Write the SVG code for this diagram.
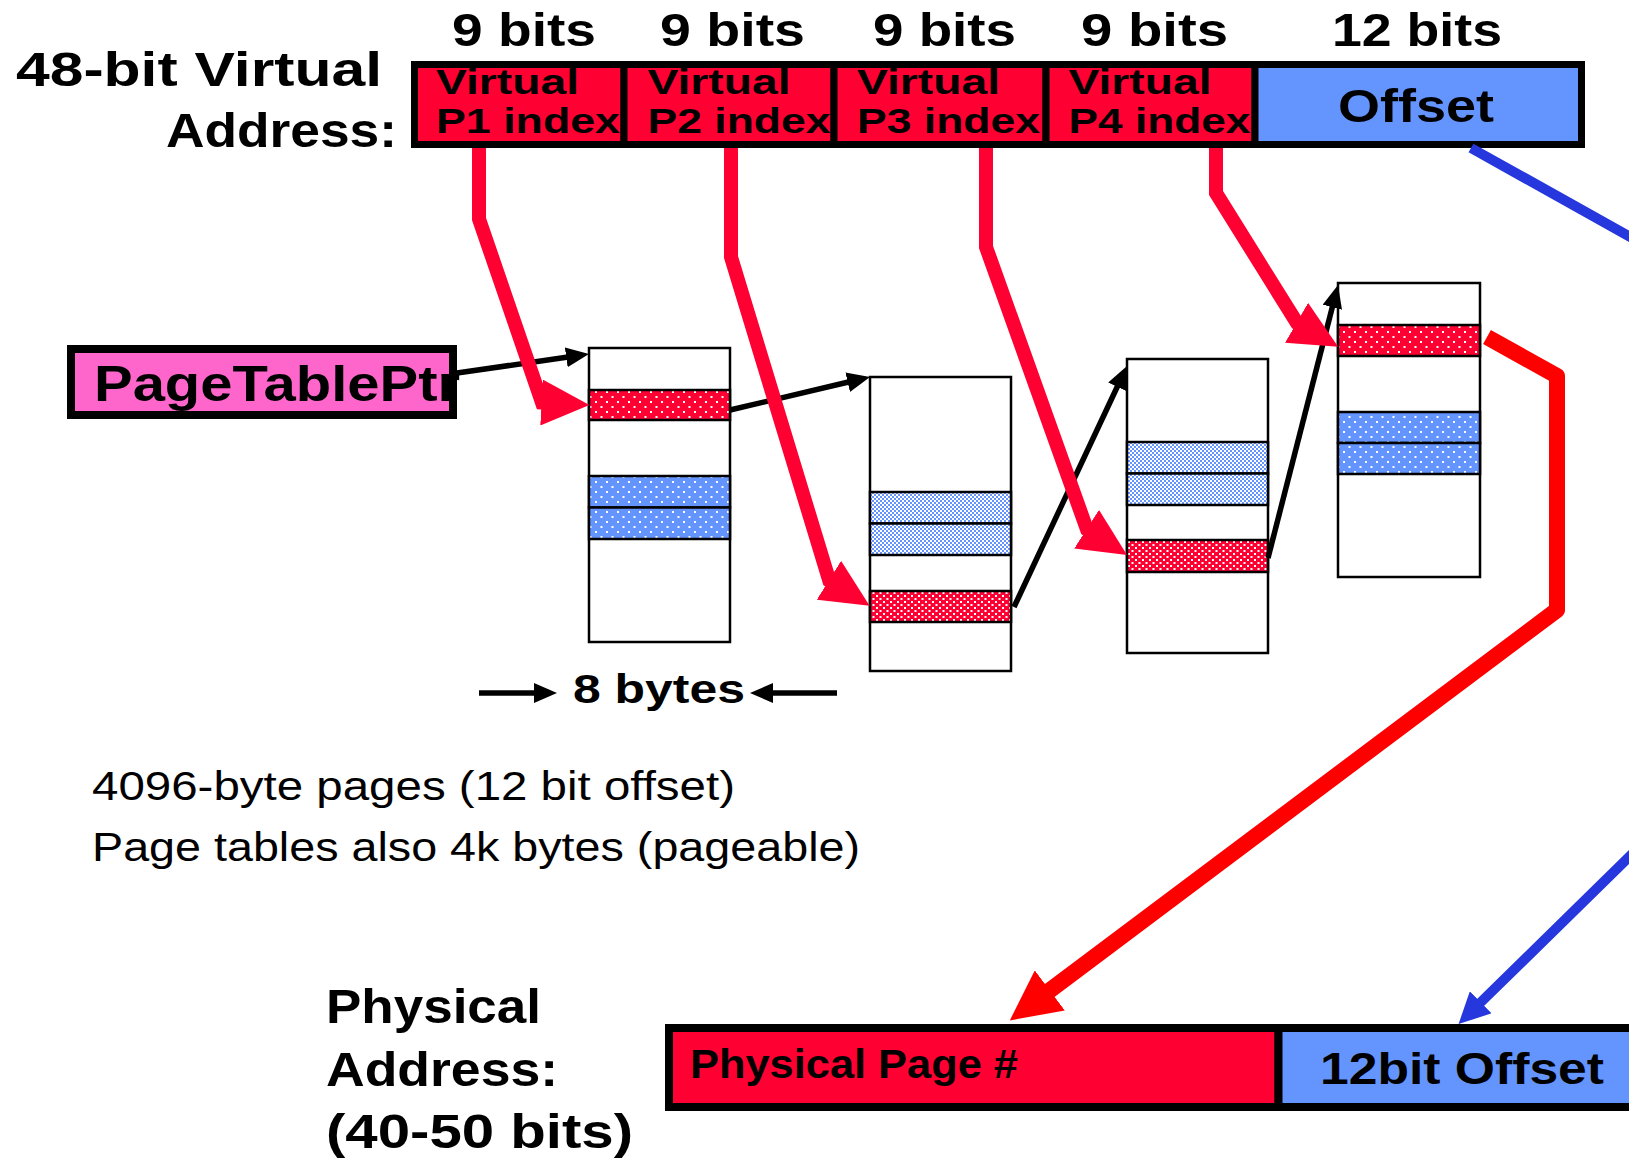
<svg xmlns="http://www.w3.org/2000/svg" width="1629" height="1160" viewBox="0 0 1629 1160">
<style>
.b{font-family:"Liberation Sans",Arial,sans-serif;font-weight:bold;fill:#000}
.r{font-family:"Liberation Sans",Arial,sans-serif;font-weight:normal;fill:#000}
.fr{fill:#FF0033;stroke:#000;stroke-width:7}
.fb{fill:#6495FF;stroke:#000;stroke-width:7}
.tbl{fill:#fff;stroke:#000;stroke-width:2.5}
.row{stroke:#000;stroke-width:2.5}
.blk{fill:none;stroke:#000;stroke-width:5.5}
.red{fill:none;stroke:#FF0033;stroke-width:14;stroke-linejoin:miter}
</style>
<defs>
<pattern id="redDots" patternUnits="userSpaceOnUse" width="11" height="10">
<rect width="11" height="10" fill="#FF0033"/><rect x="1" y="1" width="2" height="2" fill="#fff"/><rect x="6.5" y="6" width="2" height="2" fill="#fff"/>
</pattern>
<pattern id="redDense" patternUnits="userSpaceOnUse" width="7" height="6">
<rect width="7" height="6" fill="#FF0033"/><rect x="1" y="1" width="2" height="2" fill="#fff"/><rect x="4.5" y="4" width="2" height="2" fill="#fff"/>
</pattern>
<pattern id="blueDots" patternUnits="userSpaceOnUse" width="11" height="10">
<rect width="11" height="10" fill="#6495FF"/><rect x="1" y="1" width="2" height="2" fill="#fff"/><rect x="6.5" y="6" width="2" height="2" fill="#fff"/>
</pattern>
<pattern id="blueCheck" patternUnits="userSpaceOnUse" width="4" height="4">
<rect width="4" height="4" fill="#fff"/><rect width="2" height="2" fill="#6495FF"/><rect x="2" y="2" width="2" height="2" fill="#6495FF"/>
</pattern>
<marker id="ahBlack" markerUnits="userSpaceOnUse" viewBox="0 0 23 20" markerWidth="23" markerHeight="20" refX="2" refY="10" orient="auto"><path d="M0,0 L23,10 L0,20 Z" fill="#000"/></marker>
<marker id="ahRed" markerUnits="userSpaceOnUse" viewBox="0 0 48 46" markerWidth="48" markerHeight="46" refX="1" refY="23" orient="auto"><path d="M0,0 L48,23 L0,46 Z" fill="#FF0033"/></marker>
<marker id="ahRed2" markerUnits="userSpaceOnUse" viewBox="0 0 50 50" markerWidth="50" markerHeight="50" refX="1" refY="25" orient="auto"><path d="M0,0 L50,25 L0,50 Z" fill="#FF0000"/></marker>
<marker id="ahBlue" markerUnits="userSpaceOnUse" viewBox="0 0 31 31" markerWidth="31" markerHeight="31" refX="1" refY="15.5" orient="auto"><path d="M0,0 L31,15.5 L0,31 Z" fill="#2537DD"/></marker>
</defs>
<rect width="1629" height="1160" fill="#fff"/>

<g id="labels">
<text class="b" x="16" y="86" font-size="48" textLength="366" lengthAdjust="spacingAndGlyphs">48-bit Virtual</text>
<text class="b" x="166" y="147" font-size="48" textLength="231" lengthAdjust="spacingAndGlyphs">Address:</text>
<text class="b" x="452" y="46" font-size="47" textLength="144" lengthAdjust="spacingAndGlyphs">9 bits</text>
<text class="b" x="660" y="46" font-size="47" textLength="145" lengthAdjust="spacingAndGlyphs">9 bits</text>
<text class="b" x="873" y="46" font-size="47" textLength="143" lengthAdjust="spacingAndGlyphs">9 bits</text>
<text class="b" x="1081" y="46" font-size="47" textLength="147" lengthAdjust="spacingAndGlyphs">9 bits</text>
<text class="b" x="1332" y="46" font-size="47" textLength="170" lengthAdjust="spacingAndGlyphs">12 bits</text>
<text class="b" x="573" y="703" font-size="40" textLength="172" lengthAdjust="spacingAndGlyphs">8 bytes</text>
<text class="r" x="92" y="800" font-size="40" textLength="643" lengthAdjust="spacingAndGlyphs">4096-byte pages (12 bit offset)</text>
<text class="r" x="92" y="861" font-size="40" textLength="768" lengthAdjust="spacingAndGlyphs">Page tables also 4k bytes (pageable)</text>
<text class="b" x="326" y="1023" font-size="48" textLength="215" lengthAdjust="spacingAndGlyphs">Physical</text>
<text class="b" x="326" y="1086" font-size="48" textLength="232" lengthAdjust="spacingAndGlyphs">Address:</text>
<text class="b" x="326" y="1148" font-size="48" textLength="307" lengthAdjust="spacingAndGlyphs">(40-50 bits)</text>
</g>

<g id="field-p1">
<rect class="fr" x="414.5" y="64.5" width="209.5" height="80"/>
<text class="b" x="436" y="94" font-size="34.5" textLength="143" lengthAdjust="spacingAndGlyphs">Virtual</text>
<text class="b" x="436" y="133" font-size="34.5" textLength="184" lengthAdjust="spacingAndGlyphs">P1 index</text>
</g>
<g id="field-p2">
<rect class="fr" x="624" y="64.5" width="210" height="80"/>
<text class="b" x="647.5" y="94" font-size="34.5" textLength="143" lengthAdjust="spacingAndGlyphs">Virtual</text>
<text class="b" x="647.5" y="133" font-size="34.5" textLength="183" lengthAdjust="spacingAndGlyphs">P2 index</text>
</g>
<g id="field-p3">
<rect class="fr" x="834" y="64.5" width="212" height="80"/>
<text class="b" x="857" y="94" font-size="34.5" textLength="143" lengthAdjust="spacingAndGlyphs">Virtual</text>
<text class="b" x="857" y="133" font-size="34.5" textLength="183" lengthAdjust="spacingAndGlyphs">P3 index</text>
</g>
<g id="field-p4">
<rect class="fr" x="1046" y="64.5" width="209" height="80"/>
<text class="b" x="1068.5" y="94" font-size="34.5" textLength="143" lengthAdjust="spacingAndGlyphs">Virtual</text>
<text class="b" x="1068.5" y="133" font-size="34.5" textLength="182" lengthAdjust="spacingAndGlyphs">P4 index</text>
</g>
<g id="field-offset">
<rect class="fb" x="1255" y="64.5" width="326.5" height="80"/>
<text class="b" x="1338" y="122" font-size="46" textLength="156" lengthAdjust="spacingAndGlyphs">Offset</text>
</g>

<g id="page-table-ptr">
<rect x="71" y="349" width="382" height="66" fill="#FF66CC"/>
<text class="b" x="94" y="401" font-size="50" textLength="366" lengthAdjust="spacingAndGlyphs">PageTablePtr</text>
<rect x="71" y="349" width="382" height="66" fill="none" stroke="#000" stroke-width="8"/>
</g>

<g id="table-1">
<rect class="tbl" x="589" y="348" width="141" height="294"/>
<rect class="row" x="589" y="390" width="141" height="30" fill="url(#redDots)"/>
<rect class="row" x="589" y="476" width="141" height="31.5" fill="url(#blueDots)"/>
<rect class="row" x="589" y="507.5" width="141" height="31.5" fill="url(#blueDots)"/>
</g>
<g id="table-2">
<rect class="tbl" x="870" y="377" width="141" height="294"/>
<rect class="row" x="870" y="492" width="141" height="31.5" fill="url(#blueCheck)"/>
<rect class="row" x="870" y="523.5" width="141" height="31.5" fill="url(#blueCheck)"/>
<rect class="row" x="870" y="591" width="141" height="31" fill="url(#redDense)"/>
</g>
<g id="table-3">
<rect class="tbl" x="1127" y="359" width="141" height="294"/>
<rect class="row" x="1127" y="442" width="141" height="31.5" fill="url(#blueCheck)"/>
<rect class="row" x="1127" y="473.5" width="141" height="31.5" fill="url(#blueCheck)"/>
<rect class="row" x="1127" y="540" width="141" height="32" fill="url(#redDense)"/>
</g>
<g id="table-4">
<rect class="tbl" x="1338" y="283" width="142" height="294"/>
<rect class="row" x="1338" y="325" width="142" height="31" fill="url(#redDots)"/>
<rect class="row" x="1338" y="412" width="142" height="31" fill="url(#blueDots)"/>
<rect class="row" x="1338" y="443" width="142" height="31" fill="url(#blueDots)"/>
</g>

<g id="physical-address">
<rect x="669" y="1028" width="609.5" height="79" fill="#FF0033" stroke="#000" stroke-width="8"/>
<rect x="1278.5" y="1028" width="500" height="79" fill="#6495FF" stroke="#000" stroke-width="8"/>
<text class="b" x="690" y="1078" font-size="40" textLength="328" lengthAdjust="spacingAndGlyphs">Physical Page #</text>
<text class="b" x="1320" y="1084" font-size="44" textLength="284" lengthAdjust="spacingAndGlyphs">12bit Offset</text>
</g>

<g id="connectors">
<path class="blk" d="M457,373 L568.2,357" marker-end="url(#ahBlack)"/>
<path class="blk" d="M730,410 L849.6,381.8" marker-end="url(#ahBlack)"/>
<path class="blk" d="M1014,607 L1118.1,385" marker-end="url(#ahBlack)"/>
<path class="blk" d="M1268,558 L1332.8,305.3" marker-end="url(#ahBlack)"/>
<path class="blk" stroke-width="6.5" d="M479,693 L536,693" marker-end="url(#ahBlack)"/>
<path class="blk" stroke-width="6.5" d="M837,693 L771,693" marker-end="url(#ahBlack)"/>
<path class="red" d="M479,148 L479,219 L542,402.5 l0.5,0.026" marker-end="url(#ahRed)"/>
<path class="red" d="M731,148 L731,257 L829.3,580.6 l0.424,0.265" marker-end="url(#ahRed)"/>
<path class="red" d="M986,148 L986,247 L1087,529.5 l0.421,0.269" marker-end="url(#ahRed)"/>
<path class="red" d="M1216,148 L1216,193 L1297,323 l0.433,0.25" marker-end="url(#ahRed)"/>
<path fill="none" stroke="#FF0000" stroke-width="16" stroke-linejoin="round" d="M1487,337 L1557,376 L1557,610 L1049,991" marker-end="url(#ahRed2)"/>
<path fill="none" stroke="#2537DD" stroke-width="10" stroke-linejoin="round" d="M1471,148 L1720,287 L1720,768 L1480,1003" marker-end="url(#ahBlue)"/>
</g>
</svg>
